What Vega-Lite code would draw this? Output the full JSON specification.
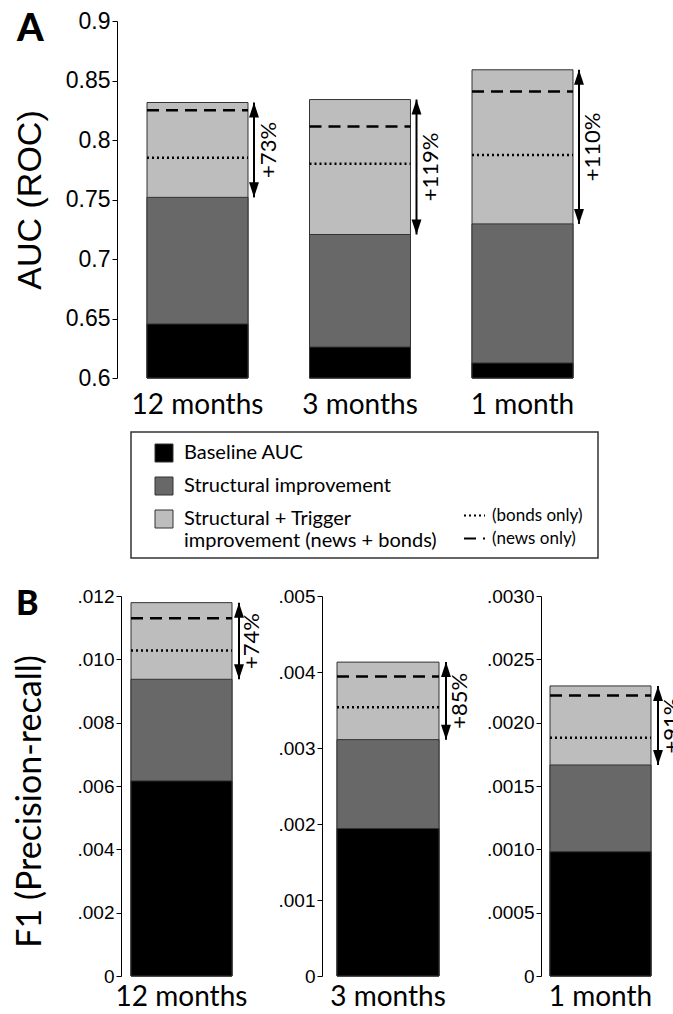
{
  "$schema": "https://vega.github.io/schema/vega-lite/v6.json",
  "padding": {"left": 13, "top": 10, "right": 5, "bottom": 5},
  "background": "white",
  "config": {
    "view": {"stroke": null},
    "font": "Lato",
    "axis": {"grid": false, "domainColor": "black", "tickColor": "black", "labelColor": "black", "titleColor": "black", "titleFontWeight": "normal"}
  },
  "datasets": {
    "bars": [
      {"metric": "AUC", "horizon": "12 months", "component": "Structural + Trigger improvement (news + bonds)", "value": 0.8315},
      {"metric": "AUC", "horizon": "12 months", "component": "Structural improvement", "value": 0.7518},
      {"metric": "AUC", "horizon": "12 months", "component": "Baseline AUC", "value": 0.6454},
      {"metric": "AUC", "horizon": "3 months", "component": "Structural + Trigger improvement (news + bonds)", "value": 0.834},
      {"metric": "AUC", "horizon": "3 months", "component": "Structural improvement", "value": 0.7206},
      {"metric": "AUC", "horizon": "3 months", "component": "Baseline AUC", "value": 0.626},
      {"metric": "AUC", "horizon": "1 month", "component": "Structural + Trigger improvement (news + bonds)", "value": 0.859},
      {"metric": "AUC", "horizon": "1 month", "component": "Structural improvement", "value": 0.7295},
      {"metric": "AUC", "horizon": "1 month", "component": "Baseline AUC", "value": 0.6126},
      {"metric": "F1", "horizon": "12 months", "component": "Structural + Trigger improvement (news + bonds)", "value": 0.01179},
      {"metric": "F1", "horizon": "12 months", "component": "Structural improvement", "value": 0.00937},
      {"metric": "F1", "horizon": "12 months", "component": "Baseline AUC", "value": 0.00616},
      {"metric": "F1", "horizon": "3 months", "component": "Structural + Trigger improvement (news + bonds)", "value": 0.00413},
      {"metric": "F1", "horizon": "3 months", "component": "Structural improvement", "value": 0.00311},
      {"metric": "F1", "horizon": "3 months", "component": "Baseline AUC", "value": 0.00194},
      {"metric": "F1", "horizon": "1 month", "component": "Structural + Trigger improvement (news + bonds)", "value": 0.00229},
      {"metric": "F1", "horizon": "1 month", "component": "Structural improvement", "value": 0.001666},
      {"metric": "F1", "horizon": "1 month", "component": "Baseline AUC", "value": 0.000981}
    ],
    "lines": [
      {"metric": "AUC", "horizon": "12 months", "variant": "bonds only", "value": 0.785},
      {"metric": "AUC", "horizon": "12 months", "variant": "news only", "value": 0.825},
      {"metric": "AUC", "horizon": "3 months", "variant": "bonds only", "value": 0.78},
      {"metric": "AUC", "horizon": "3 months", "variant": "news only", "value": 0.8114},
      {"metric": "AUC", "horizon": "1 month", "variant": "bonds only", "value": 0.7873},
      {"metric": "AUC", "horizon": "1 month", "variant": "news only", "value": 0.8408},
      {"metric": "F1", "horizon": "12 months", "variant": "bonds only", "value": 0.01028},
      {"metric": "F1", "horizon": "12 months", "variant": "news only", "value": 0.0113},
      {"metric": "F1", "horizon": "3 months", "variant": "bonds only", "value": 0.003535},
      {"metric": "F1", "horizon": "3 months", "variant": "news only", "value": 0.00394},
      {"metric": "F1", "horizon": "1 month", "variant": "bonds only", "value": 0.00188},
      {"metric": "F1", "horizon": "1 month", "variant": "news only", "value": 0.002214}
    ],
    "gains": [
      {"metric": "AUC", "horizon": "12 months", "gain": "+73%", "low": 0.7518, "high": 0.8315},
      {"metric": "AUC", "horizon": "3 months", "gain": "+119%", "low": 0.7206, "high": 0.834},
      {"metric": "AUC", "horizon": "1 month", "gain": "+110%", "low": 0.7295, "high": 0.859},
      {"metric": "F1", "horizon": "12 months", "gain": "+74%", "low": 0.00937, "high": 0.01179},
      {"metric": "F1", "horizon": "3 months", "gain": "+85%", "low": 0.00311, "high": 0.00413},
      {"metric": "F1", "horizon": "1 month", "gain": "+91%", "low": 0.001666, "high": 0.00229}
    ]
  },
  "vconcat": [
    {
      "vconcat": [
        {
          "width": 458,
          "height": 357,
          "title": {"text": "A", "anchor": "start", "frame": "bounds", "orient": "top", "offset": -39, "dx": 4, "font": "Lato", "fontSize": 38, "fontWeight": 900, "color": "black", "baseline": "top"},
          "layer": [
            {
              "data": {"name": "bars"},
              "transform": [{"filter": "datum.metric == 'AUC'"}],
              "mark": {"type": "bar", "stroke": "#333333", "strokeWidth": 1},
              "encoding": {
                "x": {"field": "horizon", "type": "nominal", "sort": ["12 months", "3 months", "1 month"], "scale": {"paddingInner": 0.3785, "paddingOuter": 0.0985},
                  "axis": {"title": null, "domain": false, "ticks": false, "labelAngle": 0, "labelFont": "Lato", "labelFontSize": 28, "labelPadding": 13}},
                "y": {"field": "value", "type": "quantitative", "stack": null, "scale": {"domain": [0.6, 0.9], "nice": false, "zero": false},
                  "axis": {"values": [0.6, 0.65, 0.7, 0.75, 0.8, 0.85, 0.9], "format": "~g", "title": "AUC (ROC)", "titleFont": "Liberation Sans", "titleFontSize": 34, "titleX": -87, "titleY": 178.5, "titleAngle": 270, "titleAlign": "center", "titleBaseline": "middle", "labelFont": "Liberation Sans", "labelFontSize": 23, "labelPadding": 2, "tickSize": 5, "offset": 14}},
                "color": {"field": "component", "type": "nominal", "scale": {"domain": ["Baseline AUC", "Structural improvement", "Structural + Trigger improvement (news + bonds)"], "range": ["#000000", "#686868", "#bdbdbd"]}, "legend": null},
                "order": {"field": "value", "type": "quantitative", "sort": "descending"}
              }
            },
            {
              "data": {"name": "lines"},
              "transform": [{"filter": "datum.metric == 'AUC'"}],
              "mark": {"type": "rule", "strokeWidth": 2.5, "color": "black", "xOffset": -50.5, "x2Offset": 50.5},
              "encoding": {
                "x": {"field": "horizon", "type": "nominal", "sort": ["12 months", "3 months", "1 month"]},
                "x2": {"field": "horizon"},
                "y": {"field": "value", "type": "quantitative"},
                "strokeDash": {"field": "variant", "type": "nominal", "scale": {"domain": ["bonds only", "news only"], "range": [[2, 3], [12, 7]]}, "legend": null}
              }
            },
            {
              "data": {"name": "gains"},
              "transform": [{"filter": "datum.metric == 'AUC'"}],
              "mark": {"type": "rule", "strokeWidth": 2, "color": "black", "xOffset": 56.5},
              "encoding": {
                "x": {"field": "horizon", "type": "nominal", "sort": ["12 months", "3 months", "1 month"]},
                "y": {"field": "high", "type": "quantitative"},
                "y2": {"field": "low"}
              }
            },
            {
              "data": {"name": "gains"},
              "transform": [{"filter": "datum.metric == 'AUC'"}],
              "mark": {"type": "point", "filled": true, "opacity": 1, "color": "black", "shape": "M0,0L-0.33,1L0.33,1Z", "size": 900, "xOffset": 56.5},
              "encoding": {
                "x": {"field": "horizon", "type": "nominal", "sort": ["12 months", "3 months", "1 month"]},
                "y": {"field": "high", "type": "quantitative"}
              }
            },
            {
              "data": {"name": "gains"},
              "transform": [{"filter": "datum.metric == 'AUC'"}],
              "mark": {"type": "point", "filled": true, "opacity": 1, "color": "black", "shape": "M0,0L-0.33,-1L0.33,-1Z", "size": 900, "xOffset": 56.5},
              "encoding": {
                "x": {"field": "horizon", "type": "nominal", "sort": ["12 months", "3 months", "1 month"]},
                "y": {"field": "low", "type": "quantitative"}
              }
            },
            {
              "data": {"name": "gains"},
              "transform": [{"filter": "datum.metric == 'AUC'"}, {"fold": ["low", "high"], "as": ["end", "v"]}],
              "mark": {"type": "text", "angle": 270, "font": "Lato", "fontSize": 22, "color": "black", "align": "center", "baseline": "middle", "xOffset": 71},
              "encoding": {
                "x": {"field": "horizon", "type": "nominal", "sort": ["12 months", "3 months", "1 month"]},
                "y": {"aggregate": "mean", "field": "v", "type": "quantitative"},
                "text": {"field": "gain", "type": "nominal"}
              }
            }
          ]
        },
        {
          "width": 467,
          "height": 126,
          "view": {"stroke": "#333333", "strokeWidth": 1.5},
          "layer": [
            {
              "data": {"name": "bars"},
              "transform": [{"filter": "datum.metric == 'AUC'"}],
              "mark": {"type": "point", "opacity": 0, "filled": true},
              "encoding": {
                "color": {"field": "component", "type": "nominal",
                  "scale": {"domain": ["Baseline AUC", "Structural improvement", "Structural + Trigger improvement (news + bonds)"], "range": ["#000000", "#686868", "#bdbdbd"]},
                  "legend": {"orient": "none", "legendX": 23, "legendY": 11, "title": null, "symbolType": "square", "symbolSize": 324, "symbolStrokeColor": "#333333", "symbolStrokeWidth": 1, "symbolOpacity": 1, "labelFont": "Lato", "labelFontSize": 20, "labelColor": "black", "labelOffset": 10, "rowPadding": 11, "labelLimit": 400,
                    "labelExpr": "datum.label == 'Structural + Trigger improvement (news + bonds)' ? ['Structural + Trigger', 'improvement (news + bonds)'] : datum.label"}
                }
              }
            },
            {
              "data": {"name": "lines"},
              "transform": [{"filter": "datum.metric == 'AUC'"}],
              "mark": {"type": "point", "opacity": 0},
              "encoding": {
                "strokeDash": {"field": "variant", "type": "nominal",
                  "scale": {"domain": ["bonds only", "news only"], "range": [[2, 3], [12, 7]]},
                  "legend": {"orient": "none", "legendX": 332, "legendY": 72, "title": null, "symbolType": "stroke", "symbolSize": 441, "symbolStrokeColor": "black", "symbolStrokeWidth": 2, "symbolOpacity": 1, "labelFont": "Lato", "labelFontSize": 17, "labelColor": "black", "labelOffset": 6, "rowPadding": 3,
                    "labelExpr": "'(' + datum.label + ')'"}
                }
              }
            }
          ]
        }
      ],
      "spacing": 12,
      "resolve": {"legend": {"color": "independent", "strokeDash": "independent"}}
    },
    {
      "hconcat": [
        {
          "width": 101,
          "height": 380,
          "title": {"text": "B", "anchor": "start", "frame": "bounds", "orient": "top", "offset": -35, "dx": 3, "font": "Lato", "fontSize": 34, "fontWeight": 900, "color": "black", "baseline": "top"},
          "layer": [
            {
              "data": {"name": "bars"},
              "transform": [{"filter": "datum.metric == 'F1' && datum.horizon == '12 months'"}],
              "mark": {"type": "bar", "stroke": "#333333", "strokeWidth": 1},
              "encoding": {
                "x": {"field": "horizon", "type": "nominal", "scale": {"paddingInner": 0, "paddingOuter": 0},
                  "axis": {"title": null, "domain": false, "ticks": false, "labelAngle": 0, "labelFont": "Lato", "labelFontSize": 28, "labelPadding": 7}},
                "y": {"field": "value", "type": "quantitative", "stack": null, "scale": {"domain": [0, 0.012], "nice": false},
                  "axis": {"values": [0, 0.002, 0.004, 0.006, 0.008, 0.01, 0.012], "labelExpr": "datum.value == 0 ? '0' : replace(format(datum.value, '.3f'), '0.', '.')", "title": "F1 (Precision-recall)", "titleFont": "Lato", "titleFontSize": 34, "titleX": -91, "titleY": 205, "titleAngle": 270, "titleAlign": "center", "titleBaseline": "middle", "labelFont": "Liberation Sans", "labelFontSize": 19, "labelPadding": 2, "tickSize": 5, "offset": 10}},
                "color": {"field": "component", "type": "nominal", "scale": {"domain": ["Baseline AUC", "Structural improvement", "Structural + Trigger improvement (news + bonds)"], "range": ["#000000", "#686868", "#bdbdbd"]}, "legend": null},
                "order": {"field": "value", "type": "quantitative", "sort": "descending"}
              }
            },
            {
              "data": {"name": "lines"},
              "transform": [{"filter": "datum.metric == 'F1' && datum.horizon == '12 months'"}],
              "mark": {"type": "rule", "strokeWidth": 2.5, "color": "black", "xOffset": -50.5, "x2Offset": 50.5},
              "encoding": {
                "x": {"field": "horizon", "type": "nominal"},
                "x2": {"field": "horizon"},
                "y": {"field": "value", "type": "quantitative"},
                "strokeDash": {"field": "variant", "type": "nominal", "scale": {"domain": ["bonds only", "news only"], "range": [[2, 3], [12, 7]]}, "legend": null}
              }
            },
            {
              "data": {"name": "gains"},
              "transform": [{"filter": "datum.metric == 'F1' && datum.horizon == '12 months'"}],
              "mark": {"type": "rule", "strokeWidth": 2, "color": "black", "xOffset": 57.5},
              "encoding": {"x": {"field": "horizon", "type": "nominal"}, "y": {"field": "high", "type": "quantitative"}, "y2": {"field": "low"}}
            },
            {
              "data": {"name": "gains"},
              "transform": [{"filter": "datum.metric == 'F1' && datum.horizon == '12 months'"}],
              "mark": {"type": "point", "filled": true, "opacity": 1, "color": "black", "shape": "M0,0L-0.33,1L0.33,1Z", "size": 900, "xOffset": 57.5},
              "encoding": {"x": {"field": "horizon", "type": "nominal"}, "y": {"field": "high", "type": "quantitative"}}
            },
            {
              "data": {"name": "gains"},
              "transform": [{"filter": "datum.metric == 'F1' && datum.horizon == '12 months'"}],
              "mark": {"type": "point", "filled": true, "opacity": 1, "color": "black", "shape": "M0,0L-0.33,-1L0.33,-1Z", "size": 900, "xOffset": 57.5},
              "encoding": {"x": {"field": "horizon", "type": "nominal"}, "y": {"field": "low", "type": "quantitative"}}
            },
            {
              "data": {"name": "gains"},
              "transform": [{"filter": "datum.metric == 'F1' && datum.horizon == '12 months'"}, {"fold": ["low", "high"], "as": ["end", "v"]}],
              "mark": {"type": "text", "angle": 270, "font": "Lato", "fontSize": 22, "color": "black", "align": "center", "baseline": "middle", "xOffset": 70},
              "encoding": {"x": {"field": "horizon", "type": "nominal"}, "y": {"aggregate": "mean", "field": "v", "type": "quantitative"}, "text": {"field": "gain", "type": "nominal"}}
            }
          ]
        },
        {
          "width": 102,
          "height": 380,
          "layer": [
            {
              "data": {"name": "bars"},
              "transform": [{"filter": "datum.metric == 'F1' && datum.horizon == '3 months'"}],
              "mark": {"type": "bar", "stroke": "#333333", "strokeWidth": 1},
              "encoding": {
                "x": {"field": "horizon", "type": "nominal", "scale": {"paddingInner": 0, "paddingOuter": 0},
                  "axis": {"title": null, "domain": false, "ticks": false, "labelAngle": 0, "labelFont": "Lato", "labelFontSize": 28, "labelPadding": 7}},
                "y": {"field": "value", "type": "quantitative", "stack": null, "scale": {"domain": [0, 0.005], "nice": false},
                  "axis": {"values": [0, 0.001, 0.002, 0.003, 0.004, 0.005], "labelExpr": "datum.value == 0 ? '0' : replace(format(datum.value, '.3f'), '0.', '.')", "title": null, "labelFont": "Liberation Sans", "labelFontSize": 19, "labelPadding": 2, "tickSize": 5, "offset": 15}},
                "color": {"field": "component", "type": "nominal", "scale": {"domain": ["Baseline AUC", "Structural improvement", "Structural + Trigger improvement (news + bonds)"], "range": ["#000000", "#686868", "#bdbdbd"]}, "legend": null},
                "order": {"field": "value", "type": "quantitative", "sort": "descending"}
              }
            },
            {
              "data": {"name": "lines"},
              "transform": [{"filter": "datum.metric == 'F1' && datum.horizon == '3 months'"}],
              "mark": {"type": "rule", "strokeWidth": 2.5, "color": "black", "xOffset": -51, "x2Offset": 51},
              "encoding": {
                "x": {"field": "horizon", "type": "nominal"},
                "x2": {"field": "horizon"},
                "y": {"field": "value", "type": "quantitative"},
                "strokeDash": {"field": "variant", "type": "nominal", "scale": {"domain": ["bonds only", "news only"], "range": [[2, 3], [12, 7]]}, "legend": null}
              }
            },
            {
              "data": {"name": "gains"},
              "transform": [{"filter": "datum.metric == 'F1' && datum.horizon == '3 months'"}],
              "mark": {"type": "rule", "strokeWidth": 2, "color": "black", "xOffset": 58},
              "encoding": {"x": {"field": "horizon", "type": "nominal"}, "y": {"field": "high", "type": "quantitative"}, "y2": {"field": "low"}}
            },
            {
              "data": {"name": "gains"},
              "transform": [{"filter": "datum.metric == 'F1' && datum.horizon == '3 months'"}],
              "mark": {"type": "point", "filled": true, "opacity": 1, "color": "black", "shape": "M0,0L-0.33,1L0.33,1Z", "size": 900, "xOffset": 58},
              "encoding": {"x": {"field": "horizon", "type": "nominal"}, "y": {"field": "high", "type": "quantitative"}}
            },
            {
              "data": {"name": "gains"},
              "transform": [{"filter": "datum.metric == 'F1' && datum.horizon == '3 months'"}],
              "mark": {"type": "point", "filled": true, "opacity": 1, "color": "black", "shape": "M0,0L-0.33,-1L0.33,-1Z", "size": 900, "xOffset": 58},
              "encoding": {"x": {"field": "horizon", "type": "nominal"}, "y": {"field": "low", "type": "quantitative"}}
            },
            {
              "data": {"name": "gains"},
              "transform": [{"filter": "datum.metric == 'F1' && datum.horizon == '3 months'"}, {"fold": ["low", "high"], "as": ["end", "v"]}],
              "mark": {"type": "text", "angle": 270, "font": "Lato", "fontSize": 22, "color": "black", "align": "center", "baseline": "middle", "xOffset": 72},
              "encoding": {"x": {"field": "horizon", "type": "nominal"}, "y": {"aggregate": "mean", "field": "v", "type": "quantitative"}, "text": {"field": "gain", "type": "nominal"}}
            }
          ]
        },
        {
          "width": 101,
          "height": 380,
          "layer": [
            {
              "data": {"name": "bars"},
              "transform": [{"filter": "datum.metric == 'F1' && datum.horizon == '1 month'"}],
              "mark": {"type": "bar", "stroke": "#333333", "strokeWidth": 1},
              "encoding": {
                "x": {"field": "horizon", "type": "nominal", "scale": {"paddingInner": 0, "paddingOuter": 0},
                  "axis": {"title": null, "domain": false, "ticks": false, "labelAngle": 0, "labelFont": "Lato", "labelFontSize": 28, "labelPadding": 7}},
                "y": {"field": "value", "type": "quantitative", "stack": null, "scale": {"domain": [0, 0.003], "nice": false},
                  "axis": {"values": [0, 0.0005, 0.001, 0.0015, 0.002, 0.0025, 0.003], "labelExpr": "datum.value == 0 ? '0' : replace(format(datum.value, '.4f'), '0.', '.')", "title": null, "labelFont": "Liberation Sans", "labelFontSize": 19, "labelPadding": 2, "tickSize": 5, "offset": 9}},
                "color": {"field": "component", "type": "nominal", "scale": {"domain": ["Baseline AUC", "Structural improvement", "Structural + Trigger improvement (news + bonds)"], "range": ["#000000", "#686868", "#bdbdbd"]}, "legend": null},
                "order": {"field": "value", "type": "quantitative", "sort": "descending"}
              }
            },
            {
              "data": {"name": "lines"},
              "transform": [{"filter": "datum.metric == 'F1' && datum.horizon == '1 month'"}],
              "mark": {"type": "rule", "strokeWidth": 2.5, "color": "black", "xOffset": -50.5, "x2Offset": 50.5},
              "encoding": {
                "x": {"field": "horizon", "type": "nominal"},
                "x2": {"field": "horizon"},
                "y": {"field": "value", "type": "quantitative"},
                "strokeDash": {"field": "variant", "type": "nominal", "scale": {"domain": ["bonds only", "news only"], "range": [[2, 3], [12, 7]]}, "legend": null}
              }
            },
            {
              "data": {"name": "gains"},
              "transform": [{"filter": "datum.metric == 'F1' && datum.horizon == '1 month'"}],
              "mark": {"type": "rule", "strokeWidth": 2, "color": "black", "xOffset": 57.5},
              "encoding": {"x": {"field": "horizon", "type": "nominal"}, "y": {"field": "high", "type": "quantitative"}, "y2": {"field": "low"}}
            },
            {
              "data": {"name": "gains"},
              "transform": [{"filter": "datum.metric == 'F1' && datum.horizon == '1 month'"}],
              "mark": {"type": "point", "filled": true, "opacity": 1, "color": "black", "shape": "M0,0L-0.33,1L0.33,1Z", "size": 900, "xOffset": 57.5},
              "encoding": {"x": {"field": "horizon", "type": "nominal"}, "y": {"field": "high", "type": "quantitative"}}
            },
            {
              "data": {"name": "gains"},
              "transform": [{"filter": "datum.metric == 'F1' && datum.horizon == '1 month'"}],
              "mark": {"type": "point", "filled": true, "opacity": 1, "color": "black", "shape": "M0,0L-0.33,-1L0.33,-1Z", "size": 900, "xOffset": 57.5},
              "encoding": {"x": {"field": "horizon", "type": "nominal"}, "y": {"field": "low", "type": "quantitative"}}
            },
            {
              "data": {"name": "gains"},
              "transform": [{"filter": "datum.metric == 'F1' && datum.horizon == '1 month'"}, {"fold": ["low", "high"], "as": ["end", "v"]}],
              "mark": {"type": "text", "angle": 270, "font": "Lato", "fontSize": 22, "color": "black", "align": "center", "baseline": "middle", "xOffset": 71},
              "encoding": {"x": {"field": "horizon", "type": "nominal"}, "y": {"aggregate": "mean", "field": "v", "type": "quantitative"}, "text": {"field": "gain", "type": "nominal"}}
            }
          ]
        }
      ],
      "spacing": 15,
      "resolve": {"scale": {"x": "independent", "y": "independent"}, "legend": {"color": "independent", "strokeDash": "independent"}}
    }
  ],
  "spacing": 28,
  "resolve": {"legend": {"color": "independent", "strokeDash": "independent"}}
}
